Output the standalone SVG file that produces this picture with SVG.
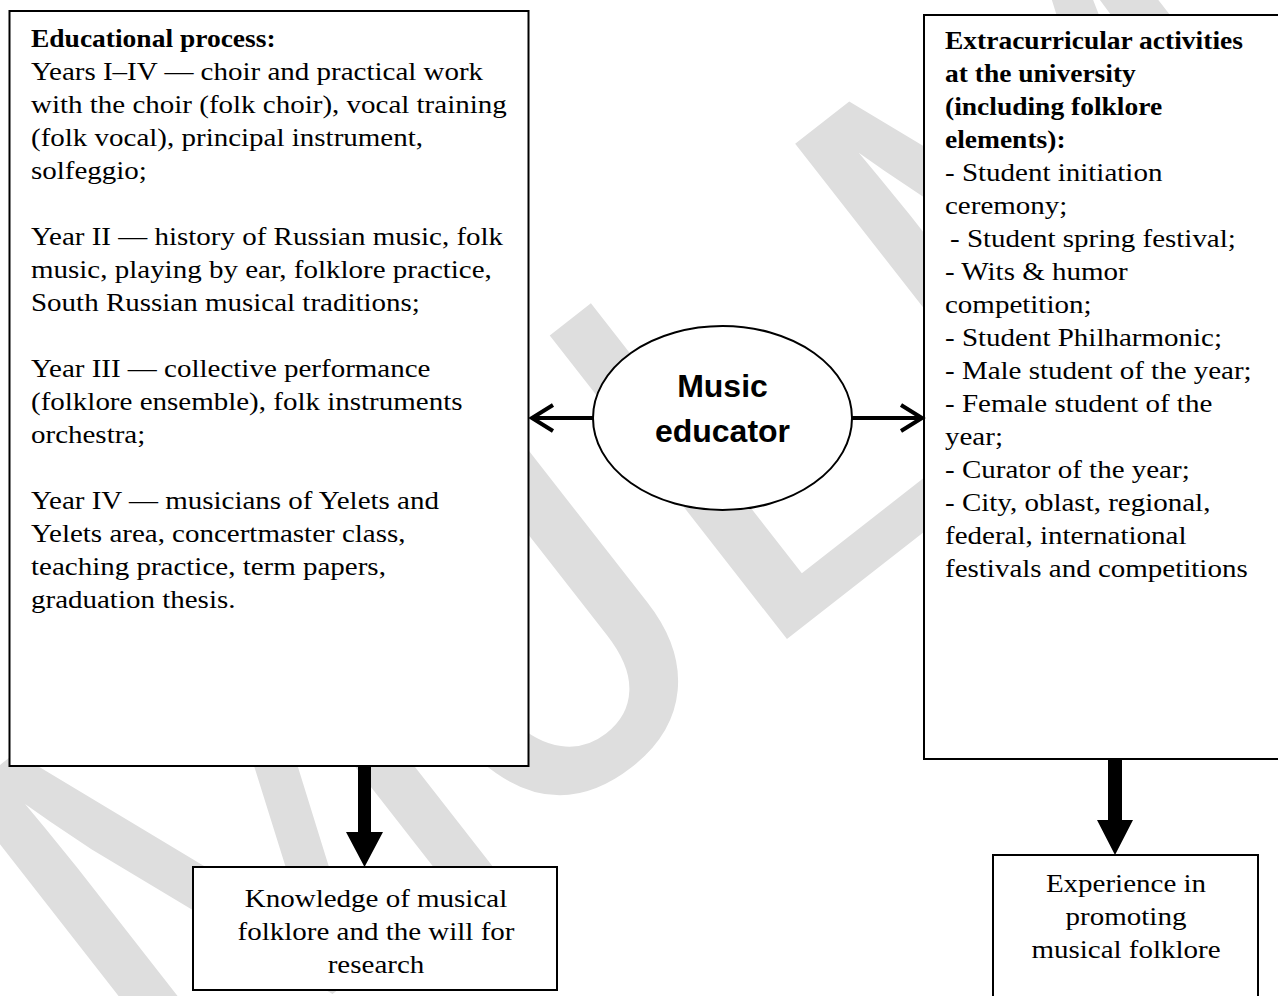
<svg xmlns="http://www.w3.org/2000/svg" width="1278" height="996" viewBox="0 0 1278 996">
<style>
.box{fill:#fff;stroke:#000;stroke-width:2}
.t{font-family:"Liberation Serif","Times New Roman",serif;font-size:25px;fill:#000}
.b{font-weight:bold}
.c{text-anchor:middle}
.conn{stroke:#000;stroke-width:4;fill:none}
.wm{font-family:"Liberation Sans",Arial,sans-serif;font-size:560px;fill:#dedede}
</style>
<defs>
<marker id="chev" viewBox="0 0 30 30" markerUnits="userSpaceOnUse" markerWidth="30" markerHeight="30" refX="25" refY="15" orient="auto">
<path d="M4,2 L25,15 L4,28" fill="none" stroke="#000" stroke-width="4"/>
</marker>
</defs>
<rect width="1278" height="996" fill="#fff"/>
<text class="wm" x="640" y="700" text-anchor="middle" transform="rotate(-38 640 500)">MJLM</text>

<g id="educational-process">
<rect class="box" x="9.5" y="11" width="519" height="755"/>
<g transform="scale(1.10 1)"><text class="t b" x="28.18" y="47">Educational process:</text></g>
<g transform="scale(1.16 1)">
<text class="t" x="26.72" y="80">Years I–IV — choir and practical work</text>
<text class="t" x="26.72" y="113">with the choir (folk choir), vocal training</text>
<text class="t" x="26.72" y="146">(folk vocal), principal instrument,</text>
<text class="t" x="26.72" y="179">solfeggio;</text>
<text class="t" x="26.72" y="245">Year II — history of Russian music, folk</text>
<text class="t" x="26.72" y="278">music, playing by ear, folklore practice,</text>
<text class="t" x="26.72" y="311">South Russian musical traditions;</text>
<text class="t" x="26.72" y="377">Year III — collective performance</text>
<text class="t" x="26.72" y="410">(folklore ensemble), folk instruments</text>
<text class="t" x="26.72" y="443">orchestra;</text>
<text class="t" x="26.72" y="509">Year IV — musicians of Yelets and</text>
<text class="t" x="26.72" y="542">Yelets area, concertmaster class,</text>
<text class="t" x="26.72" y="575">teaching practice, term papers,</text>
<text class="t" x="26.72" y="608">graduation thesis.</text>
</g>
</g>

<g id="extracurricular">
<rect class="box" x="924" y="15" width="370" height="744"/>
<g transform="scale(1.10 1)">
<text class="t b" x="859.09" y="49.5">Extracurricular activities</text>
<text class="t b" x="859.09" y="82.5">at the university</text>
<text class="t b" x="859.09" y="115.5">(including folklore</text>
<text class="t b" x="859.09" y="148.5">elements):</text>
</g>
<g transform="scale(1.16 1)">
<text class="t" x="814.66" y="181.5">- Student initiation</text>
<text class="t" x="814.66" y="214.5">ceremony;</text>
<text class="t" x="819" y="247.5">- Student spring festival;</text>
<text class="t" x="814.66" y="280.5">- Wits &amp; humor</text>
<text class="t" x="814.66" y="313.5">competition;</text>
<text class="t" x="814.66" y="346.5">- Student Philharmonic;</text>
<text class="t" x="814.66" y="379.5">- Male student of the year;</text>
<text class="t" x="814.66" y="412.5">- Female student of the</text>
<text class="t" x="814.66" y="445.5">year;</text>
<text class="t" x="814.66" y="478.5">- Curator of the year;</text>
<text class="t" x="814.66" y="511.5">- City, oblast, regional,</text>
<text class="t" x="814.66" y="544.5">federal, international</text>
<text class="t" x="814.66" y="577.5">festivals and competitions</text>
</g>
</g>

<g id="music-educator">
<ellipse cx="722.5" cy="418" rx="129.5" ry="92" fill="#fff" stroke="#000" stroke-width="2"/>
<text x="722.5" y="397" text-anchor="middle" font-family="Liberation Sans, Arial, sans-serif" font-weight="bold" font-size="32">Music</text>
<text x="722.5" y="442" text-anchor="middle" font-family="Liberation Sans, Arial, sans-serif" font-weight="bold" font-size="32">educator</text>
</g>

<g id="knowledge">
<rect class="box" x="193" y="867" width="364" height="123"/>
<g transform="scale(1.16 1)">
<text class="t c" x="324.14" y="907">Knowledge of musical</text>
<text class="t c" x="324.14" y="940">folklore and the will for</text>
<text class="t c" x="324.14" y="973">research</text>
</g>
</g>

<g id="experience">
<rect class="box" x="993" y="855" width="265" height="160"/>
<g transform="scale(1.16 1)">
<text class="t c" x="970.69" y="892">Experience in</text>
<text class="t c" x="970.69" y="925">promoting</text>
<text class="t c" x="970.69" y="958">musical folklore</text>
</g>
</g>

<g id="connectors">
<path class="conn" d="M593,418 H532" marker-end="url(#chev)"/>
<path class="conn" d="M852,418 H922" marker-end="url(#chev)"/>
<polygon fill="#000" points="358,767 371,767 371,832 383,832 364.5,867 346,832 358,832"/>
<polygon fill="#000" points="1108,760 1122,760 1122,820 1133,820 1115,855 1097,820 1108,820"/>
</g>
</svg>
